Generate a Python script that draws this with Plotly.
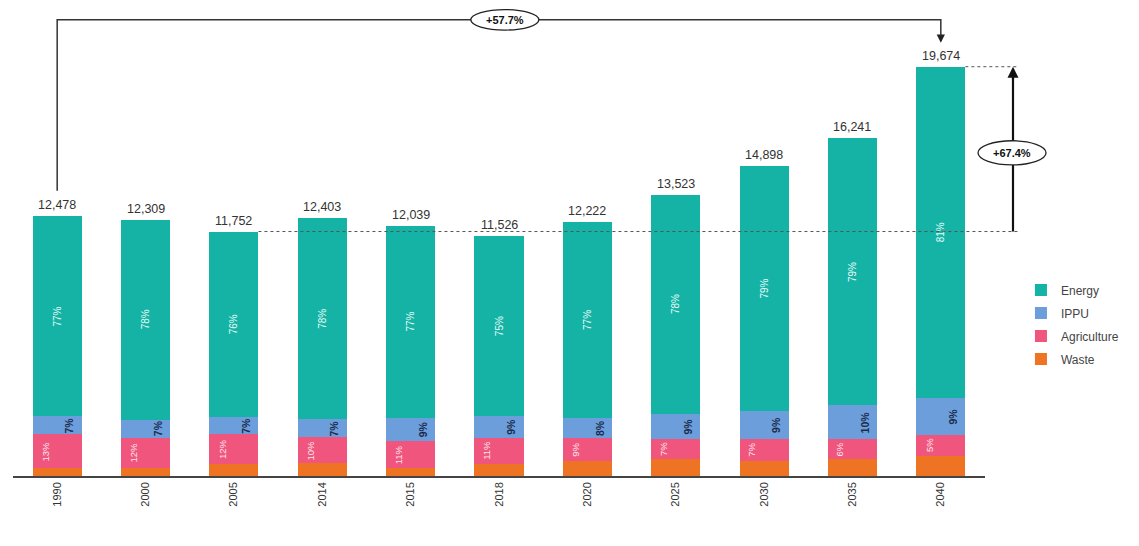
import plotly.graph_objects as go

# Emissions by sector, totals and sector shares (%)
years = ["1990", "2000", "2005", "2014", "2015", "2018", "2020", "2025", "2030", "2035", "2040"]
totals = [12478, 12309, 11752, 12403, 12039, 11526, 12222, 13523, 14898, 16241, 19674]
energy_pct = [77, 78, 76, 78, 77, 75, 77, 78, 79, 79, 81]
ippu_pct = [7, 7, 7, 7, 9, 9, 8, 9, 9, 10, 9]
agri_pct = [13, 12, 12, 10, 11, 11, 9, 7, 7, 6, 5]
waste_pct = [100 - e - i - a for e, i, a in zip(energy_pct, ippu_pct, agri_pct)]

colors = {
    "Energy": "#14b3a5",
    "IPPU": "#6b9edb",
    "Agriculture": "#f0557d",
    "Waste": "#ee7424",
}

Y_MAX = 22400
N = len(years)
BAR_W = 0.555


def seg(pcts):
    return [t * p / 100 for t, p in zip(totals, pcts)]


waste = seg(waste_pct)
agri = seg(agri_pct)
ippu = seg(ippu_pct)
energy = seg(energy_pct)


def xp(idx):
    # category index -> paper x
    return (idx + 0.5) / N


def yp(v):
    return v / Y_MAX


fig = go.Figure()
stack = [("Waste", waste, 4), ("Agriculture", agri, 3), ("IPPU", ippu, 2), ("Energy", energy, 1)]
for name, vals, rank in stack:
    fig.add_trace(go.Bar(x=years, y=vals, name=name, legendgroup=name, legendrank=rank,
                         marker=dict(color=colors[name], line=dict(width=0)),
                         width=BAR_W, hoverinfo="skip"))

FONT = "Liberation Sans, Arial, sans-serif"
ann = []
shapes = []

for k, yr in enumerate(years):
    base_a = waste[k]
    base_i = base_a + agri[k]
    base_e = base_i + ippu[k]
    common = dict(x=k, xref="x", yref="y", showarrow=False, xanchor="center")
    # total above bar
    ann.append(dict(common, y=totals[k], text=f"{totals[k]:,}", yanchor="bottom", yshift=2,
                    font=dict(size=12.5, color="#333", family=FONT)))
    # energy share
    ann.append(dict(common, y=base_e + energy[k] / 2, text=f"{energy_pct[k]}%", yanchor="middle",
                    textangle=-90, font=dict(size=10, color="#e8fbf8", family=FONT)))
    # IPPU share
    ann.append(dict(common, y=base_i + ippu[k] / 2, text=f"<b>{ippu_pct[k]}%</b>", yanchor="middle",
                    textangle=-90, xshift=12, font=dict(size=10.5, color="#1c2b4c", family=FONT)))
    # Agriculture share
    ann.append(dict(common, y=base_a + agri[k] / 2, text=f"{agri_pct[k]}%", yanchor="middle",
                    textangle=-90, xshift=-12, font=dict(size=9.5, color="#ffe6ee", family=FONT)))

# growth bracket 1990 -> 2040
first, last = 0, N - 1
growth_all = (totals[last] / totals[first] - 1) * 100
bracket_top = 21930
shapes.append(dict(type="path", xref="paper", yref="paper", layer="above",
                   path=(f"M{xp(first)},{yp(totals[first] + 1230)} L{xp(first)},{yp(bracket_top)} "
                         f"L{xp(last)},{yp(bracket_top)} L{xp(last)},{yp(totals[last] + 1500)}"),
                   line=dict(color="#333", width=1.5)))
ann.append(dict(x=xp(last), y=yp(totals[last] + 1150), xref="paper", yref="paper", showarrow=True,
                ax=0, ay=-8, arrowhead=2, arrowsize=1.1, arrowwidth=1.5, arrowcolor="#222", text=""))
mid_x = (xp(first) + xp(last)) / 2 + 0.006
shapes.append(dict(type="circle", xref="paper", yref="paper", layer="above",
                   x0=mid_x - 0.035, x1=mid_x + 0.035, y0=yp(bracket_top) - 0.022, y1=yp(bracket_top) + 0.022,
                   fillcolor="white", line=dict(color="#222", width=1.3)))
ann.append(dict(x=mid_x, y=yp(bracket_top), xref="paper", yref="paper", showarrow=False,
                xanchor="center", yanchor="middle",
                text=f"<b>+{growth_all:.1f}%</b>", font=dict(size=11, color="#111", family=FONT)))

# growth 2005 -> 2040 with reference lines
ref = 2
growth_ref = (totals[last] / totals[ref] - 1) * 100
x_arrow = 1.0288
x_end = 1.034
shapes.append(dict(type="line", xref="paper", yref="paper", layer="above",
                   x0=xp(ref + BAR_W / 2), x1=x_end, y0=yp(totals[ref]), y1=yp(totals[ref]),
                   line=dict(color="#555", width=1, dash="dot")))
shapes.append(dict(type="line", xref="paper", yref="paper", layer="above",
                   x0=xp(last + BAR_W / 2), x1=x_end, y0=yp(totals[last]), y1=yp(totals[last]),
                   line=dict(color="#555", width=1, dash="dot")))
shapes.append(dict(type="line", xref="paper", yref="paper", layer="above",
                   x0=x_arrow, x1=x_arrow, y0=yp(totals[ref]), y1=yp(totals[last]) - 0.02,
                   line=dict(color="#111", width=2.2)))
ann.append(dict(x=x_arrow, y=yp(totals[last]), xref="paper", yref="paper", showarrow=True,
                ax=0, ay=14, arrowhead=2, arrowsize=1, arrowwidth=2.2, arrowcolor="#111", text=""))
mid_y = yp((totals[ref] + totals[last]) / 2) - 0.008
shapes.append(dict(type="circle", xref="paper", yref="paper", layer="above",
                   x0=x_arrow - 0.036, x1=x_arrow + 0.034, y0=mid_y - 0.026, y1=mid_y + 0.026,
                   fillcolor="white", line=dict(color="#222", width=1.3)))
ann.append(dict(x=x_arrow - 0.001, y=mid_y, xref="paper", yref="paper", showarrow=False,
                xanchor="center", yanchor="middle",
                text=f"<b>+{growth_ref:.1f}%</b>", font=dict(size=11, color="#111", family=FONT)))

fig.update_layout(
    barmode="stack",
    bargap=1 - BAR_W,
    width=1139,
    height=546,
    margin=dict(l=13, r=154, t=10, b=70),
    paper_bgcolor="white",
    plot_bgcolor="white",
    font=dict(family=FONT, color="#333"),
    showlegend=True,
    legend=dict(x=1.037, y=0.43, xanchor="left", yanchor="top", traceorder="grouped",
                font=dict(size=12, color="#444", family=FONT), bgcolor="rgba(0,0,0,0)",
                tracegroupgap=4, itemwidth=30),
    xaxis=dict(type="category", range=[-0.5, N - 0.5], showline=True, linecolor="#444", linewidth=1.5,
               ticks="", tickangle=-90, tickfont=dict(size=11, color="#333", family=FONT),
               showgrid=False, zeroline=False),
    yaxis=dict(range=[0, Y_MAX], visible=False, showgrid=False, zeroline=False),
    annotations=ann,
    shapes=shapes,
)

fig.write_html("out.html")
